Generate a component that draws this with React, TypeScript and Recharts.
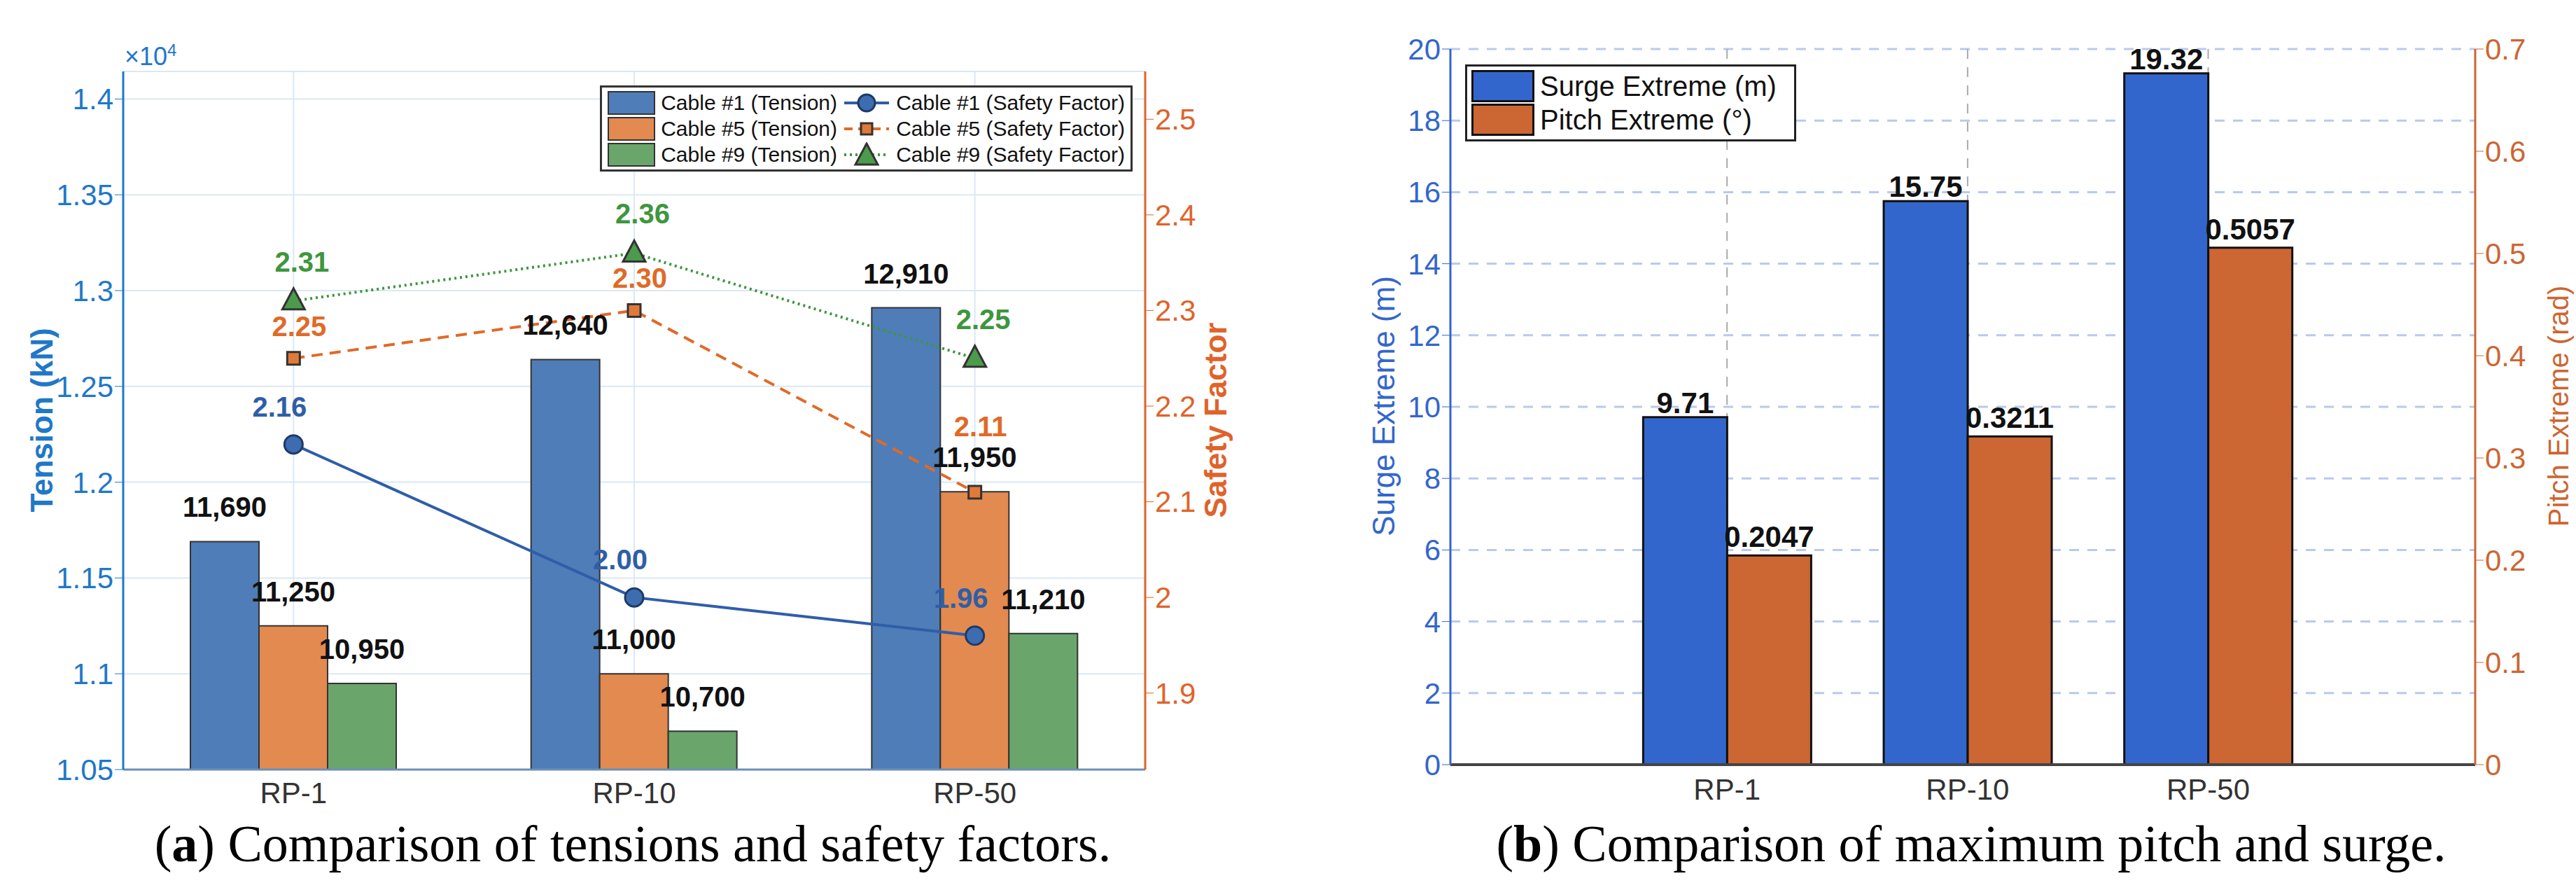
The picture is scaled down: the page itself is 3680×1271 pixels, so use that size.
import React from 'react';
import {
  ComposedChart, Bar, Line, XAxis, YAxis, CartesianGrid, LabelList,
} from 'recharts';

const categories = ['RP-1', 'RP-10', 'RP-50'];
const cable1Tension = [11690, 12640, 12910];
const cable5Tension = [11250, 11000, 11950];
const cable9Tension = [10950, 10700, 11210];
const cable1Safety = [2.16, 2.0, 1.96];
const cable5Safety = [2.25, 2.3, 2.11];
const cable9Safety = [2.31, 2.36, 2.25];

const surgeExtreme = [9.71, 15.75, 19.32];
const pitchExtreme = [0.2047, 0.3211, 0.5057];
const tensionTicks = [10500, 11000, 11500, 12000, 12500, 13000, 13500, 14000];
const safetyTicks = [1.9, 2.0, 2.1, 2.2, 2.3, 2.4, 2.5];
const surgeTicks = [0, 2, 4, 6, 8, 10, 12, 14, 16, 18, 20];
const pitchTicks = [0, 0.1, 0.2, 0.3, 0.4, 0.5, 0.6, 0.7];

const leftData = categories.map((name, i) => ({
  name,
  t1: cable1Tension[i], t5: cable5Tension[i], t9: cable9Tension[i],
  s1: cable1Safety[i], s5: cable5Safety[i], s9: cable9Safety[i],
}));
const rightData = categories.map((name, i) => ({
  x: i + 1, name, surge: surgeExtreme[i], pitch: pitchExtreme[i],
}));

const FONT = '"Liberation Sans", Arial, sans-serif';
const C = {
  bar1: '#4f7db8', bar5: '#e28a4f', bar9: '#6aa56b',
  line1: '#2f5ea8', line5: '#e06a28', line9: '#3e963e',
  leftAxis: '#1f78c8', rightAxis: '#e0632a',
  surge: '#3366cc', pitch: '#cc6633',
};

// label above a line point; dys gives the vertical offset for each point
const coloredLabel = (color: string, dys: number[], dx = 0) => (p: any) => (
  <text x={p.x + dx} y={p.y + dys[p.index ?? 0]} fill={color} fontSize={40} fontWeight="bold"
    fontFamily={FONT} textAnchor="middle">{Number(p.value).toFixed(2)}</text>
);

function LegendRow({ color, label, line, dash, marker, label2 }: any) {
  return (
    <div style={{ display: 'flex', alignItems: 'center', height: 37, whiteSpace: 'nowrap' }}>
      <div style={{ width: 64, height: 30, background: color, border: '2px solid #333', marginRight: 8 }} />
      <span style={{ width: 258 }}>{label}</span>
      <svg width={72} height={36}>
        <line x1={4} x2={68} y1={18} y2={18} stroke={line} strokeWidth={4} strokeDasharray={dash} />
        {marker}
      </svg>
      <span style={{ marginLeft: 6 }}>{label2}</span>
    </div>
  );
}

export default function App() {
  return (
    <div style={{ position: 'absolute', left: 0, top: 0, width: 3680, height: 1271, background: '#fff', fontFamily: FONT }}>
      {/* (a) */}
      <div style={{ position: 'absolute', left: 0, top: 0 }}>
        <ComposedChart width={1840} height={1271} data={leftData} barSize={98} barGap={0}
          margin={{ top: 102, right: 114, left: 86, bottom: 112 }}>
          <CartesianGrid stroke="#dbe8f4" strokeWidth={2} yAxisId="l" />
          <XAxis dataKey="name" height={60} tick={{ fontSize: 42, fill: '#333', fontFamily: FONT }}
            tickLine={false} axisLine={{ stroke: '#6b8fb8', strokeWidth: 3 }} tickMargin={12} />
          <XAxis xAxisId="top" dataKey="name" orientation="top" height={0} tick={false}
            tickLine={false} axisLine={{ stroke: '#222', strokeWidth: 3 }} />
          <YAxis yAxisId="l" width={90} domain={[10500, 14144]} ticks={tensionTicks} allowDataOverflow
            tickFormatter={(v) => String(v / 10000)} tick={{ fontSize: 42, fill: C.leftAxis, fontFamily: FONT }}
            axisLine={{ stroke: C.leftAxis, strokeWidth: 3 }} tickLine={{ stroke: C.leftAxis }} tickSize={12} />
          <YAxis yAxisId="r" orientation="right" width={90} domain={[1.82, 2.55]} ticks={safetyTicks} allowDataOverflow
            tickFormatter={(v) => String(Number(v.toFixed(1)))} tick={{ fontSize: 42, fill: C.rightAxis, fontFamily: FONT }}
            axisLine={{ stroke: C.rightAxis, strokeWidth: 3 }} tickLine={{ stroke: C.rightAxis }} tickSize={12} />
          <Bar yAxisId="l" dataKey="t1" fill={C.bar1} stroke="#333" strokeWidth={2} isAnimationActive={false}>
            <LabelList dataKey="t1" position="top" offset={35} formatter={(v: any) => Number(v).toLocaleString('en-US')}
              style={{ fontSize: 40, fontWeight: 'bold', fill: '#111', fontFamily: FONT }} />
          </Bar>
          <Bar yAxisId="l" dataKey="t5" fill={C.bar5} stroke="#333" strokeWidth={2} isAnimationActive={false}>
            <LabelList dataKey="t5" position="top" offset={35} formatter={(v: any) => Number(v).toLocaleString('en-US')}
              style={{ fontSize: 40, fontWeight: 'bold', fill: '#111', fontFamily: FONT }} />
          </Bar>
          <Bar yAxisId="l" dataKey="t9" fill={C.bar9} stroke="#333" strokeWidth={2} isAnimationActive={false}>
            <LabelList dataKey="t9" position="top" offset={35} formatter={(v: any) => Number(v).toLocaleString('en-US')}
              style={{ fontSize: 40, fontWeight: 'bold', fill: '#111', fontFamily: FONT }} />
          </Bar>
          <Line yAxisId="r" dataKey="s1" stroke={C.line1} strokeWidth={4} isAnimationActive={false}
            dot={{ r: 13, fill: '#3d6db0', stroke: '#1e3a66', strokeWidth: 3 }}>
            <LabelList dataKey="s1" content={coloredLabel(C.line1, [-40, -40, -40], -20)} />
          </Line>
          <Line yAxisId="r" dataKey="s5" stroke={C.line5} strokeWidth={4} strokeDasharray="16 10" isAnimationActive={false}
            dot={(p: any) => <rect key={p.index} x={p.cx - 9} y={p.cy - 9} width={18} height={18} fill="#e07a3a" stroke="#333" strokeWidth={3} />}>
            <LabelList dataKey="s5" content={coloredLabel(C.line5, [-32, -32, -80], 8)} />
          </Line>
          <Line yAxisId="r" dataKey="s9" stroke={C.line9} strokeWidth={4} strokeDasharray="3 5" isAnimationActive={false}
            dot={(p: any) => <path key={p.index} d={`M${p.cx},${p.cy - 18} L${p.cx + 16},${p.cy + 12} L${p.cx - 16},${p.cy + 12} Z`} fill="#4c9a4c" stroke="#333" strokeWidth={3} />}>
            <LabelList dataKey="s9" content={coloredLabel(C.line9, [-42, -42, -42], 12)} />
          </Line>
        </ComposedChart>
        <div style={{ position: 'absolute', left: 178, top: 58, color: C.leftAxis, fontSize: 36 }}>
          ×10<sup style={{ fontSize: 24 }}>4</sup>
        </div>
        <div style={{ position: 'absolute', left: 60, top: 600, transform: 'translate(-50%,-50%) rotate(-90deg)', color: C.leftAxis, fontSize: 44, fontWeight: 'bold', whiteSpace: 'nowrap' }}>
          Tension (kN)
        </div>
        <div style={{ position: 'absolute', left: 1737, top: 600, transform: 'translate(-50%,-50%) rotate(-90deg)', color: C.rightAxis, fontSize: 44, fontWeight: 'bold', whiteSpace: 'nowrap' }}>
          Safety Factor
        </div>
        <div style={{ position: 'absolute', right: 1840 - 1618, top: 122, padding: '3px 8px', background: '#fff', border: '3px solid #333', fontSize: 30, color: '#111' }}>
          <LegendRow color={C.bar1} label="Cable #1 (Tension)" line={C.line1} label2="Cable #1 (Safety Factor)"
            marker={<circle cx={36} cy={18} r={12} fill="#3d6db0" stroke="#1e3a66" strokeWidth={3} />} />
          <LegendRow color={C.bar5} label="Cable #5 (Tension)" line={C.line5} dash="12 8" label2="Cable #5 (Safety Factor)"
            marker={<rect x={28} y={10} width={16} height={16} fill="#e07a3a" stroke="#333" strokeWidth={3} />} />
          <LegendRow color={C.bar9} label="Cable #9 (Tension)" line={C.line9} dash="3 5" label2="Cable #9 (Safety Factor)"
            marker={<path d="M36,2 L52,32 L20,32 Z" fill="#4c9a4c" stroke="#333" strokeWidth={3} />} />
        </div>
        <div style={{ position: 'absolute', left: 904, top: 1205, transform: 'translate(-50%,-50%)', fontFamily: '"Liberation Serif", serif', fontSize: 74, whiteSpace: 'nowrap', color: '#000' }}>
          (<b>a</b>) Comparison of tensions and safety factors.
        </div>
      </div>

      {/* (b) */}
      <div style={{ position: 'absolute', left: 1840, top: 0 }}>
        <ComposedChart width={1840} height={1271} data={rightData} barSize={120} barGap={0}
          margin={{ top: 70, right: 64, left: 152, bottom: 119 }}>
          <CartesianGrid yAxisId="l" vertical={false} stroke="#b9c9ef" strokeWidth={3} strokeDasharray="14 12" />
          <CartesianGrid yAxisId="l" horizontal={false} stroke="#aaa" strokeWidth={2} strokeDasharray="14 12" />
          <XAxis dataKey="x" type="number" domain={[-0.15, 4.11]} ticks={[1, 2, 3]} height={60}
            tickFormatter={(v) => categories[v - 1]} tick={{ fontSize: 42, fill: '#333', fontFamily: FONT }}
            tickLine={false} axisLine={{ stroke: '#444', strokeWidth: 4 }} tickMargin={14} />
          <XAxis xAxisId="top" dataKey="x" type="number" domain={[-0.15, 4.11]} orientation="top" height={0} tick={false}
            tickLine={false} axisLine={{ stroke: '#444', strokeWidth: 4 }} />
          <YAxis yAxisId="l" width={80} domain={[0, 20]} ticks={surgeTicks}
            tick={{ fontSize: 42, fill: C.surge, fontFamily: FONT }}
            axisLine={{ stroke: C.surge, strokeWidth: 3 }} tickLine={{ stroke: C.surge }} tickSize={12} />
          <YAxis yAxisId="r" orientation="right" width={80} domain={[0, 0.7]} ticks={pitchTicks}
            tickFormatter={(v) => String(Number(v.toFixed(1)))} tick={{ fontSize: 42, fill: C.pitch, fontFamily: FONT }}
            axisLine={{ stroke: C.pitch, strokeWidth: 3 }} tickLine={{ stroke: C.pitch }} tickSize={12} />
          <Bar yAxisId="l" dataKey="surge" fill={C.surge} stroke="#111" strokeWidth={3} isAnimationActive={false}>
            <LabelList dataKey="surge" position="top" offset={6} formatter={(v: any) => Number(v).toFixed(2)}
              style={{ fontSize: 42, fontWeight: 'bold', fill: '#111', fontFamily: FONT }} />
          </Bar>
          <Bar yAxisId="r" dataKey="pitch" fill={C.pitch} stroke="#111" strokeWidth={3} isAnimationActive={false}>
            <LabelList dataKey="pitch" position="top" offset={12} formatter={(v: any) => Number(v).toFixed(4)}
              style={{ fontSize: 42, fontWeight: 'bold', fill: '#111', fontFamily: FONT }} />
          </Bar>
        </ComposedChart>
        <div style={{ position: 'absolute', left: 137, top: 580, transform: 'translate(-50%,-50%) rotate(-90deg)', color: C.surge, fontSize: 44, whiteSpace: 'nowrap' }}>
          Surge Extreme (m)
        </div>
        <div style={{ position: 'absolute', left: 1815, top: 580, transform: 'translate(-50%,-50%) rotate(-90deg)', color: C.pitch, fontSize: 40, whiteSpace: 'nowrap' }}>
          Pitch Extreme (rad)
        </div>
        <div style={{ position: 'absolute', left: 253, top: 92, width: 455, padding: '4px 6px', background: '#fff', border: '3px solid #222', fontSize: 40, color: '#111' }}>
          {[['Surge Extreme (m)', C.surge], ['Pitch Extreme (°)', C.pitch]].map(([t, c]) => (
            <div key={t} style={{ display: 'flex', alignItems: 'center', height: 48 }}>
              <div style={{ width: 84, height: 40, background: c, border: '3px solid #111', marginRight: 8 }} />
              {t}
            </div>
          ))}
        </div>
        <div style={{ position: 'absolute', left: 976, top: 1205, transform: 'translate(-50%,-50%)', fontFamily: '"Liberation Serif", serif', fontSize: 74, whiteSpace: 'nowrap', color: '#000' }}>
          (<b>b</b>) Comparison of maximum pitch and surge.
        </div>
      </div>
    </div>
  );
}
